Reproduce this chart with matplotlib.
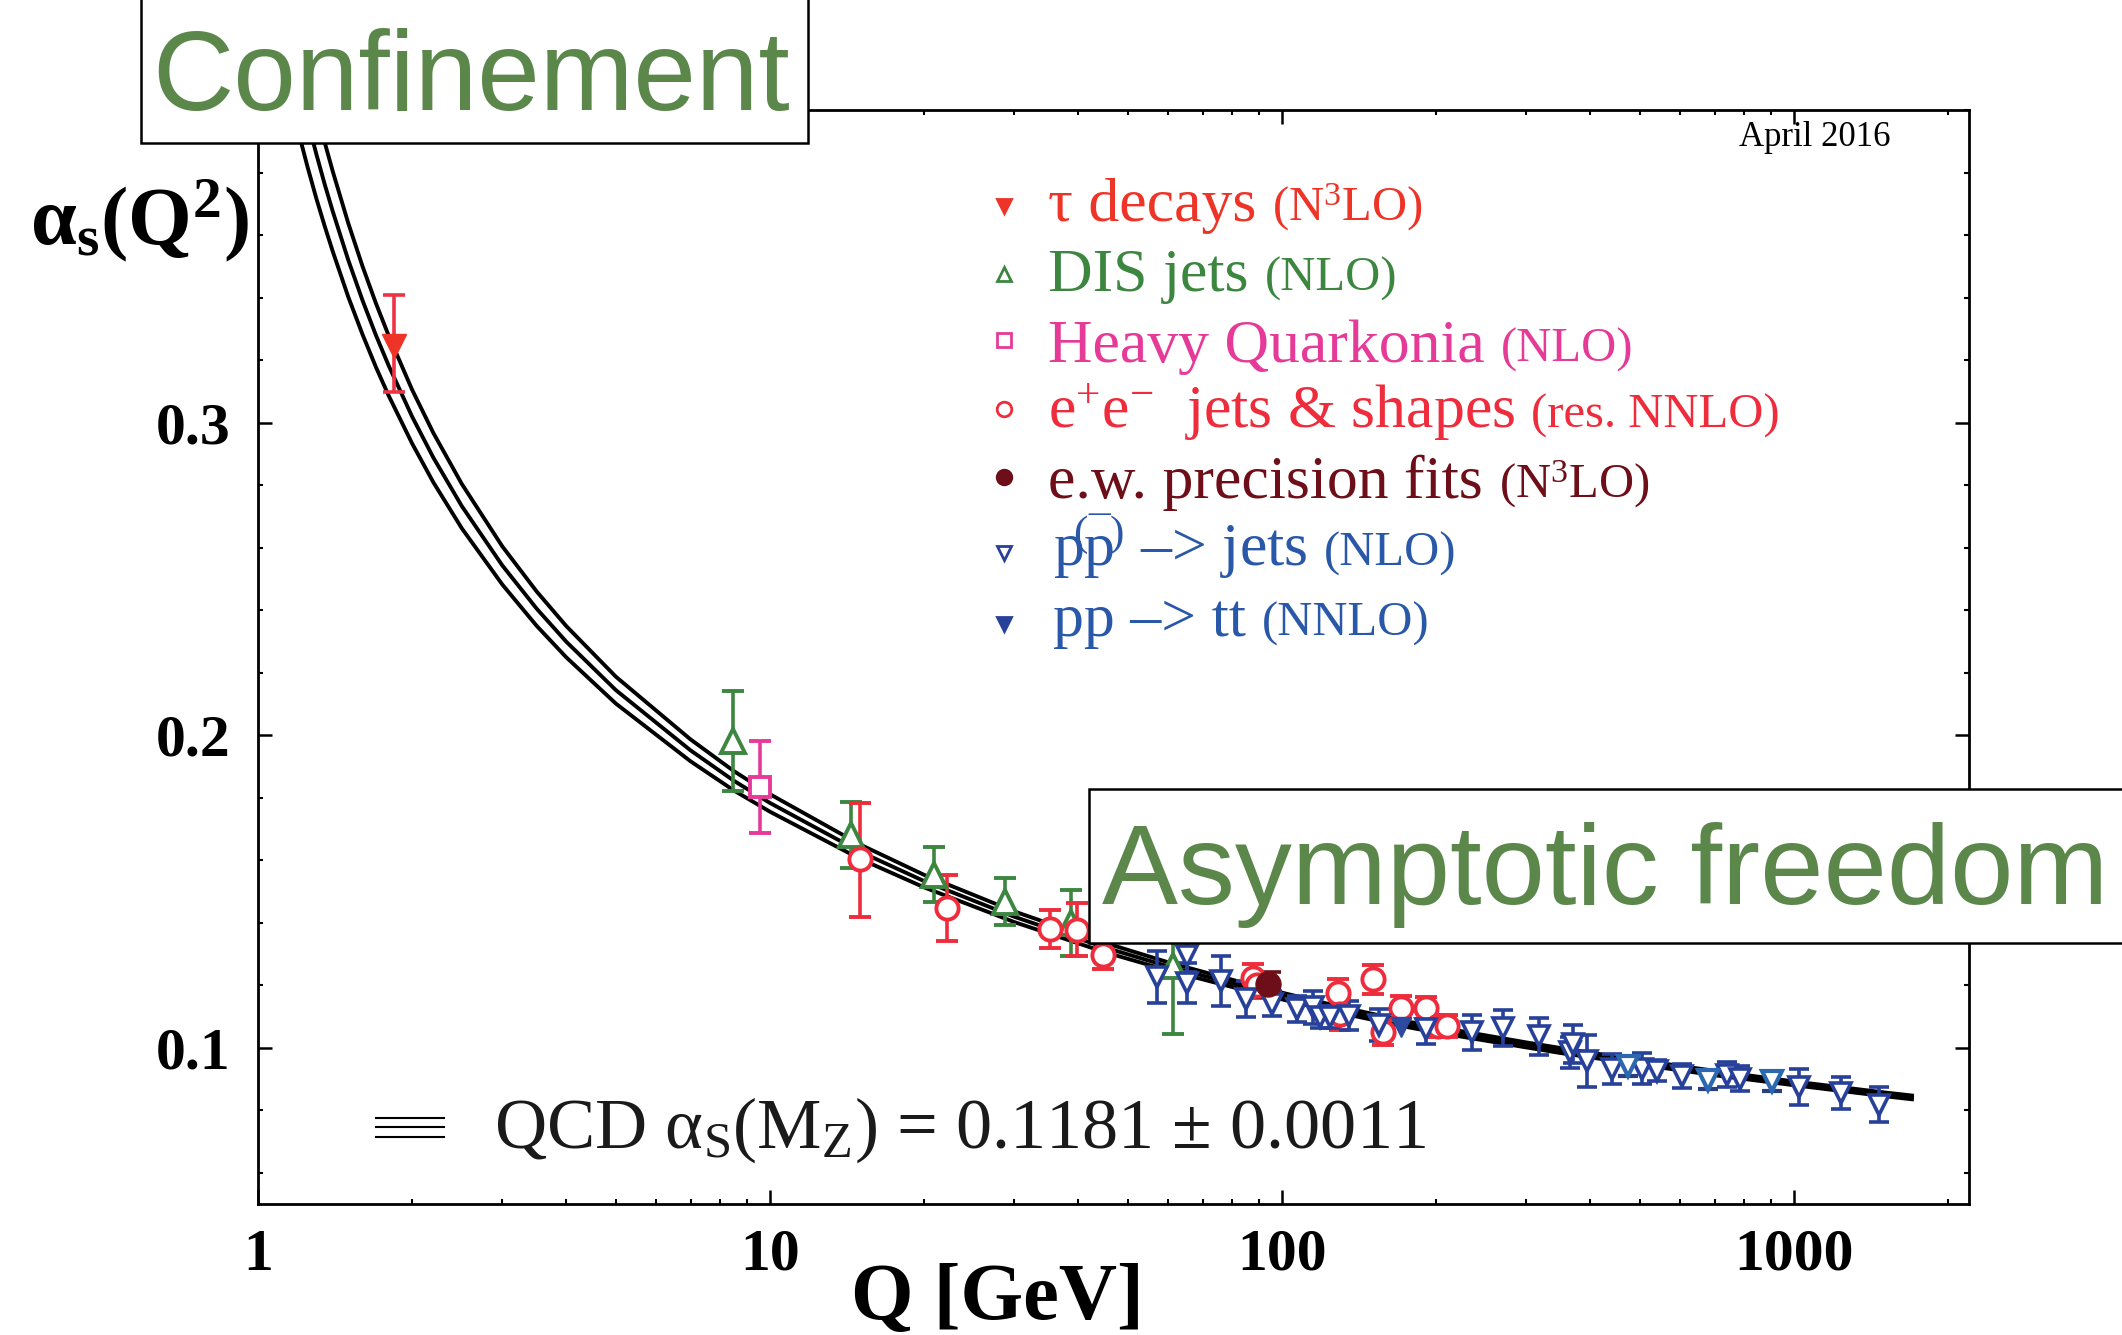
import matplotlib
matplotlib.use("Agg")
import numpy as np
import matplotlib.pyplot as plt
from matplotlib.patches import Rectangle
from matplotlib.lines import Line2D
from matplotlib.ticker import FixedLocator, FixedFormatter, MultipleLocator, LogLocator, NullFormatter

plt.rcParams["mathtext.fontset"] = "custom"
plt.rcParams["mathtext.rm"] = "Liberation Serif"
plt.rcParams["mathtext.it"] = "Liberation Serif:italic"
plt.rcParams["mathtext.bf"] = "Liberation Serif:bold"
plt.rcParams["font.family"] = ["Liberation Serif", "DejaVu Serif"]

# ---------------- data ----------------
# running coupling: central value and half-width of the uncertainty band
qcd_q = [1.2, 1.25, 1.3, 1.35, 1.4, 1.5, 1.6, 1.7, 1.8, 2.0, 2.2, 2.5, 3.0, 3.5, 4.0,
         5.0, 7.0, 8.5, 10, 15, 20, 30, 45, 60, 91.2, 130, 173, 200, 300, 350,
         500, 700, 1000, 1500, 1700]
qcd_alpha = [0.4086, 0.3966, 0.3859, 0.3762, 0.3675, 0.3521, 0.3391, 0.3279, 0.3182, 0.3019,
             0.2888, 0.2733, 0.2543, 0.2405, 0.2299, 0.2144, 0.1951, 0.1854, 0.1783, 0.1627,
             0.1533, 0.1419, 0.1321, 0.1260, 0.1181, 0.1121, 0.1077, 0.1058, 0.1009, 0.0991,
             0.0953, 0.0919, 0.0886, 0.0851, 0.0841]
qcd_halfwidth = [0.0158, 0.0149, 0.0142, 0.0134, 0.0128, 0.0118, 0.0109, 0.0102, 0.0096, 0.0086,
                 0.0079, 0.0071, 0.0061, 0.0055, 0.0050, 0.0043, 0.0035, 0.0031, 0.0028, 0.0023,
                 0.0020, 0.0017, 0.0015, 0.0013, 0.0011, 0.0010, 0.0009, 0.0009, 0.0008, 0.0008,
                 0.0007, 0.0007, 0.0006, 0.0006, 0.0006]

# tau decays
tau_q = [1.84]
tau_a = [0.3245]
tau_lo = [0.0146]
tau_hi = [0.0164]

# DIS jets
dis_q = [8.48, 14.4, 20.9, 28.8, 38.8, 61.2]
dis_a = [0.198, 0.168, 0.1553, 0.1467, 0.1399, 0.1261]
dis_err = [0.016, 0.0105, 0.0088, 0.0076, 0.0106, 0.0218]

# heavy quarkonia
hq_q = [9.56]
hq_a = [0.1834]
hq_err = [0.0148]

# e+e- jets & shapes
ee_q = [15.0, 22.2, 35.3, 39.7, 44.7, 87.9, 89.2, 128.5, 129.8, 150.8, 157.8, 171.1, 191.0, 202.0, 209.7]
ee_a = [0.1603, 0.1447, 0.138, 0.1378, 0.1296, 0.1224, 0.1200, 0.1176, 0.1107, 0.1219,
        0.1049, 0.1128, 0.1128, 0.107, 0.107]
ee_lo = [0.0186, 0.0105, 0.006, 0.0086, 0.0045, 0.0044, 0.004, 0.0045, 0.005, 0.0046,
         0.004, 0.0037, 0.0035, 0.0035, 0.0035]
ee_hi = [0.0181, 0.0105, 0.006, 0.0086, 0.0045, 0.0044, 0.004, 0.0045, 0.005, 0.0046,
         0.004, 0.0037, 0.0035, 0.0035, 0.0035]

# electroweak precision fits
ew_q = [94.0]
ew_a = [0.1203]
ew_err = [0.004]

# pp(bar) -> jets
ppj_q = [56.9, 65.2, 65.2, 75.9, 84.9, 95.5, 106.8, 115.2, 118.7, 124.1, 135.3, 155.0,
         191.1, 234.7, 269.8, 318.1, 365.0, 369.6, 394.8, 440.5, 504.0, 539.0, 603.5,
         738.9, 784.5, 1024, 1236, 1466]
ppj_a = [0.1226, 0.1293, 0.1208, 0.1213, 0.1156, 0.1140, 0.1123, 0.1129, 0.1097, 0.1097,
         0.1103, 0.1074, 0.1061, 0.1049, 0.1063, 0.1036, 0.0985, 0.1012, 0.0957, 0.0932,
         0.0933, 0.0926, 0.0909, 0.0913, 0.0901, 0.0875, 0.0855, 0.0818]
ppj_err = [0.0083, 0.005, 0.0064, 0.008, 0.0057, 0.004, 0.0042, 0.0053, 0.0035, 0.0035,
           0.0046, 0.0051, 0.0049, 0.0055, 0.0058, 0.0058, 0.005, 0.006, 0.0083, 0.0048,
           0.0049, 0.0034, 0.0039, 0.004, 0.0041, 0.0057, 0.005, 0.0056]
ppj2_q = [474.6, 680.0, 907.0]
ppj2_a = [0.094, 0.0897, 0.0892]
ppj2_err = [0.003, 0.003, 0.003]

# pp -> tt
tt_q = [170.8]
tt_a = [0.1067]

x_ticks = [1, 10, 100, 1000]
x_ticklabels = ["1", "10", "100", "1000"]
y_ticks = [0.1, 0.2, 0.3]
y_ticklabels = ["0.1", "0.2", "0.3"]

# ---------------- colours ----------------
c_tau = "#ee3327"
c_dis = "#3c8640"
c_hq = "#e63a98"
c_ee = "#ee2c3c"
c_ew = "#6e0e18"
c_pp = "#27409a"
c_pp2 = "#2b68b0"
c_pptext = "#2a58a8"
c_green = "#5b874b"

W, H = 2122, 1335
fig = plt.figure(figsize=(W / 100, H / 100), dpi=100)
ax = fig.add_axes([258 / W, 1 - 1204 / H, (1969 - 258) / W, (1204 - 110) / H])

ax.set_xscale("log")
ax.set_xlim(1, 2197)
ax.set_ylim(0.05, 0.40)

# QCD band as three lines
qa = np.array(qcd_alpha)
hw = np.array(qcd_halfwidth)
for curve in (qa - hw, qa, qa + hw):
    ax.plot(qcd_q, curve, color="black", lw=2.8, zorder=2, solid_joinstyle="round")

ebkw = dict(elinewidth=2.6, capthick=2.6, zorder=4)

ax.errorbar(dis_q, dis_a, yerr=dis_err, fmt="^", ms=17, mfc="white", mec=c_dis,
            mew=2.8, ecolor=c_dis, capsize=8, **ebkw)
ax.errorbar(hq_q, hq_a, yerr=hq_err, fmt="s", ms=15, mfc="white", mec=c_hq,
            mew=2.8, ecolor=c_hq, capsize=8, **ebkw)
ax.errorbar(ee_q, ee_a, yerr=[ee_lo, ee_hi], fmt="o", ms=16, mfc="white", mec=c_ee,
            mew=2.8, ecolor=c_ee, capsize=8, **ebkw)
ax.errorbar(ppj_q, ppj_a, yerr=ppj_err, fmt="v", ms=14, mfc="white", mec=c_pp,
            mew=2.6, ecolor=c_pp, capsize=7, **ebkw)
ax.errorbar(ppj2_q, ppj2_a, yerr=ppj2_err, fmt="v", ms=14, mfc="white", mec=c_pp2,
            mew=3.0, ecolor="#2a3f80", capsize=7, **ebkw)
ax.plot(tt_q, tt_a, "v", ms=15, color="#2d4aa0", zorder=5)
ax.errorbar(ew_q, ew_a, yerr=ew_err, fmt="o", ms=18, mfc=c_ew, mec=c_ew,
            ecolor=c_ew, capsize=9, **ebkw)
ax.errorbar(tau_q, tau_a, yerr=[tau_lo, tau_hi], fmt="v", ms=17, mfc=c_tau, mec=c_tau,
            ecolor="#ee3444", capsize=8, **ebkw)

# axes styling
for s in ax.spines.values():
    s.set_linewidth(2.0)
ax.xaxis.set_major_locator(FixedLocator(x_ticks))
ax.xaxis.set_major_formatter(FixedFormatter(x_ticklabels))
ax.xaxis.set_minor_locator(LogLocator(base=10, subs=np.arange(2, 10)))
ax.xaxis.set_minor_formatter(NullFormatter())
ax.yaxis.set_major_locator(FixedLocator(y_ticks))
ax.yaxis.set_major_formatter(FixedFormatter(y_ticklabels))
ax.yaxis.set_minor_locator(MultipleLocator(0.02))
ax.tick_params(which="both", direction="in", top=True, right=True)
ax.tick_params(which="major", length=10, width=1.8)
ax.tick_params(which="minor", length=3.6, width=1.5)
ax.tick_params(axis="x", which="major", pad=18)
ax.tick_params(axis="y", which="major", pad=20)
for lab in ax.get_xticklabels() + ax.get_yticklabels():
    lab.set_fontsize(43)
    lab.set_fontweight("bold")

# axis titles
fig.text(30 / W, 1 - 244 / H, r"α$_\mathbf{s}$(Q$^\mathbf{2}$)", fontsize=59,
         fontweight="bold", ha="left", va="baseline")
fig.text(997 / W, 1 - 1319 / H, "Q [GeV]", fontsize=58, fontweight="bold",
         ha="center", va="baseline")
fig.text(1739 / W, 1 - 146 / H, "April 2016", fontsize=25, ha="left", va="baseline")

# QCD band key
for yy in (1118, 1127, 1137):
    fig.add_artist(Line2D([376 / W, 444 / W], [1 - yy / H, 1 - yy / H],
                          transform=fig.transFigure, color="black", lw=1.5))
fig.text(494 / W, 1 - 1148 / H, r"QCD α$_\mathrm{S}$(M$_\mathrm{Z}$) = 0.1181 ± 0.0011",
         fontsize=52, ha="left", va="baseline", color="#1a1a1a")

# legend
renderer = fig.canvas.get_renderer()
legend_rows = [
    ("v", c_tau, c_tau, "τ decays", r"(N$^{3}$LO)", c_tau),
    ("^", "white", c_dis, "DIS jets", "(NLO)", c_dis),
    ("s", "white", c_hq, "Heavy Quarkonia", "(NLO)", c_hq),
    ("o", "white", c_ee, r"e$^{+}$e$^{-}$  jets & shapes", "(res. NNLO)", c_ee),
    ("o", c_ew, c_ew, "e.w. precision fits", r"(N$^{3}$LO)", c_ew),
    ("v", "white", c_pp,
     "p$\\mathrm{p}^{\\!\\!\\!\\!\\!\\!\\!\\!(\u00af)}$ –> jets", "(NLO)", c_pptext),
    ("v", c_pp, c_pp, "pp –> tt", "(NNLO)", c_pptext),
]
marker_y = [206, 274, 340, 409, 477, 553, 624]
text_y = [221, 291, 362, 428, 498, 566, 636]
for (mk, fc, ec, big, small, tc), my, ty in zip(legend_rows, marker_y, text_y):
    fig.add_artist(Line2D([1004 / W], [1 - my / H], transform=fig.transFigure,
                          marker=mk, ms=10.5, mfc=fc, mec=ec, mew=2.0, ls="none"))
    x0 = 1053 if big.startswith("p") else 1048
    t = fig.text(x0 / W, 1 - ty / H, big, fontsize=44.5, color=tc,
                 ha="left", va="baseline")
    bb = t.get_window_extent(renderer)
    fig.text((bb.x1 + 16) / W, 1 - ty / H, small, fontsize=35, color=tc,
             ha="left", va="baseline")

# labelled boxes
fig.add_artist(Rectangle((141 / W, 1 - 143 / H), (808 - 141) / W, 0.2,
                         transform=fig.transFigure, facecolor="white",
                         edgecolor="black", lw=1.8, zorder=5, clip_on=False))
fig.text(152 / W, 1 - 110 / H, "Confinement", fontsize=81, color=c_green,
         family="Liberation Sans", ha="left", va="baseline", zorder=6)
fig.add_artist(Rectangle((1089 / W, 1 - 943 / H), (2200 - 1089) / W, (943 - 789) / H,
                         transform=fig.transFigure, facecolor="white",
                         edgecolor="black", lw=1.8, zorder=5, clip_on=False))
fig.text(1102 / W, 1 - 904 / H, "Asymptotic freedom", fontsize=82, color=c_green,
         family="Liberation Sans", ha="left", va="baseline", zorder=6)

fig.savefig("out.png", dpi=100)
